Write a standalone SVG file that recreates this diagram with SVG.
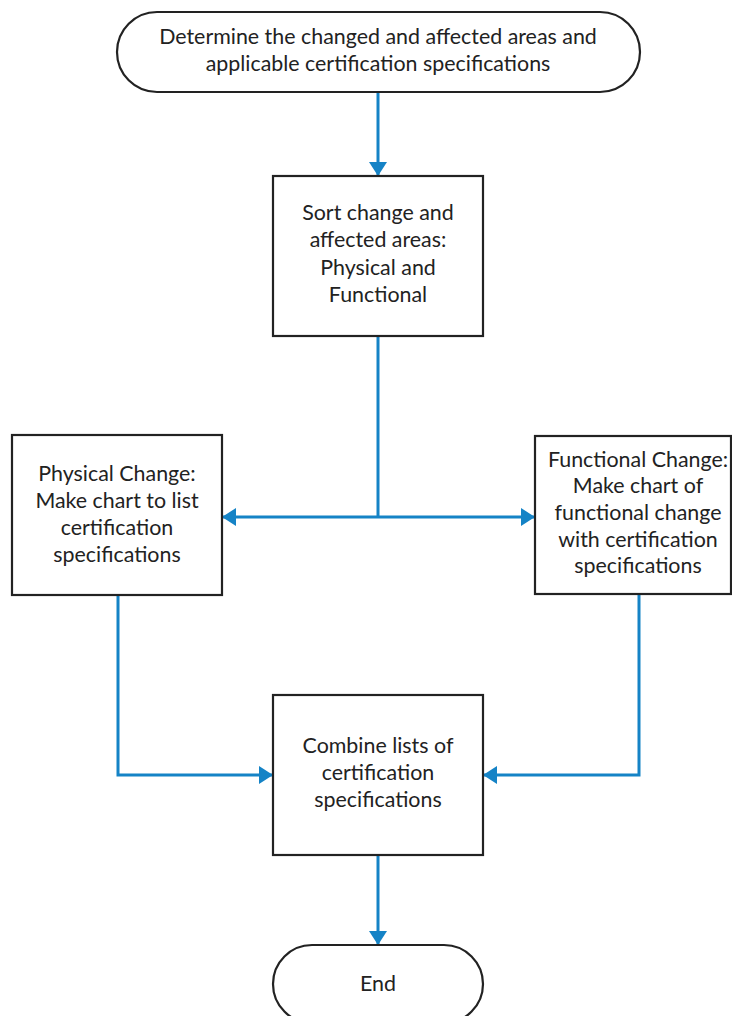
<svg xmlns="http://www.w3.org/2000/svg" width="732" height="1016" viewBox="0 0 732 1016">
  <style>
    .box { fill: #ffffff; stroke: #222222; stroke-width: 2.2; }
    .lbl { font-family: Lato, "Open Sans", "Liberation Sans", sans-serif; font-size: 21.4px; fill: #222222; text-anchor: middle; }
    .wire { fill: none; stroke: #1583c6; stroke-width: 3; }
  </style>
  <defs>
    <marker id="arrow" markerUnits="userSpaceOnUse" markerWidth="14" markerHeight="18" viewBox="0 0 14 18" refX="14" refY="9" orient="auto">
      <path d="M0,0 L14,9 L0,18 Z" fill="#1583c6"/>
    </marker>
  </defs>

  <g id="connectors">
    <path class="wire" d="M378,92 V176" marker-end="url(#arrow)"/>
    <path class="wire" d="M378,336 V517"/>
    <path class="wire" d="M378,517 H222" marker-end="url(#arrow)"/>
    <path class="wire" d="M378,517 H535" marker-end="url(#arrow)"/>
    <path class="wire" d="M118,595 V775 H273" marker-end="url(#arrow)"/>
    <path class="wire" d="M639,594 V775 H483" marker-end="url(#arrow)"/>
    <path class="wire" d="M378,855 V945" marker-end="url(#arrow)"/>
  </g>

  <g id="start">
    <rect class="box" x="117" y="12" width="523" height="80" rx="40" ry="40"/>
    <text class="lbl" x="378" y="44">Determine the changed and affected areas and</text>
    <text class="lbl" x="378" y="71">applicable certification specifications</text>
  </g>

  <g id="sort">
    <rect class="box" x="273" y="176" width="210" height="160"/>
    <text class="lbl" x="378" y="220">Sort change and</text>
    <text class="lbl" x="378" y="247">affected areas:</text>
    <text class="lbl" x="378" y="275">Physical and</text>
    <text class="lbl" x="378" y="302">Functional</text>
  </g>

  <g id="physical">
    <rect class="box" x="12" y="435" width="210" height="160"/>
    <text class="lbl" x="117" y="481">Physical Change:</text>
    <text class="lbl" x="117" y="508">Make chart to list</text>
    <text class="lbl" x="117" y="535">certification</text>
    <text class="lbl" x="117" y="562">specifications</text>
  </g>

  <g id="functional">
    <rect class="box" x="535" y="436" width="196" height="158"/>
    <text class="lbl" x="638" y="467">Functional Change:</text>
    <text class="lbl" x="638" y="493">Make chart of</text>
    <text class="lbl" x="638" y="520">functional change</text>
    <text class="lbl" x="638" y="547">with certification</text>
    <text class="lbl" x="638" y="573">specifications</text>
  </g>

  <g id="combine">
    <rect class="box" x="273" y="695" width="210" height="160"/>
    <text class="lbl" x="378" y="753">Combine lists of</text>
    <text class="lbl" x="378" y="780">certification</text>
    <text class="lbl" x="378" y="807">specifications</text>
  </g>

  <g id="end">
    <rect class="box" x="273" y="945" width="210" height="78" rx="39" ry="39"/>
    <text class="lbl" x="378" y="991">End</text>
  </g>
</svg>
